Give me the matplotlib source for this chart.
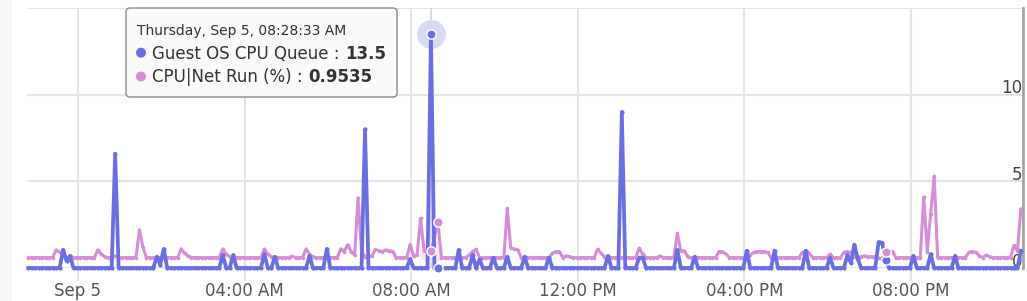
import matplotlib
matplotlib.use('Agg')
import matplotlib.pyplot as plt
from matplotlib.patches import FancyBboxPatch, Rectangle, Circle
from matplotlib.transforms import IdentityTransform
import numpy as np
import pandas as pd

# 5-minute samples, Sep 4 22:48:33 -> Sep 5 22:38:33
times = pd.date_range('2024-09-04 22:48:33', periods=287, freq='5min')

# Guest OS CPU Queue (one row = one hour)
cpu_queue = [
    0, 0, 0, 0, 0, 0, 0, 0, 0, 0, 1.05, 0.4,
    0.7, 0, 0, 0, 0, 0, 0, 0, 0, 0, 0, 0,
    0, 6.6, 0, 0, 0, 0, 0, 0, 0, 0, 0, 0,
    0, 0.65, 0.2, 1.1, 0, 0, 0, 0, 0, 0, 0, 0,
    0, 0, 0, 0, 0, 0, 0, 0, 0.75, 0, 0, 0.75,
    0, 0, 0, 0, 0, 0, 0, 0, 0.8, 0, 0, 0.65,
    0, 0, 0, 0, 0, 0, 0, 0, 0, 0.7, 0, 0,
    0, 0, 1.1, 0, 0, 0, 0, 0, 0, 0, 0, 0,
    0, 8.0, 0, 0, 0, 0, 0, 0, 0, 0, 0, 0,
    0, 0, 0.5, 0, 0, 0, 0, 0, 13.5, 0, 0, 0,
    0, 0, 0, 0, 1.05, 0, 0, 0, 0.75, 0, 0.5, 0,
    0, 0, 0.6, 0, 0, 0, 0.65, 0, 0, 0, 0, 0.65,
    0, 0, 0, 0, 0, 0, 0.6, 0, 0, 0, 0, 0,
    0, 0, 0, 0, 0, 0, 0, 0, 0, 0, 0, 0.7,
    0, 0, 0, 9.0, 0, 0, 0, 0, 0.6, 0.6, 0, 0,
    0, 0, 0, 0, 0, 0, 0, 1.05, 0, 0, 0, 0,
    0.65, 0, 0, 0, 0, 0, 0, 0, 0, 0, 0, 0,
    0, 0, 0, 1.0, 0, 0, 0, 0, 0, 0, 0, 1.0,
    0, 0, 0, 0, 0, 0, 0, 0, 1.0, 0, 0, 0,
    0, 0, 0, 0.6, 0, 0, 0, 0, 0.75, 0.3, 1.35, 0.5,
    0, 0, 0, 0, 0, 1.5, 1.45, 0.46, 0, 0, 0, 0,
    0, 0, 0, 0.7, 0, 0, 0, 0, 0.8, 0, 0, 0,
    0, 0, 0, 0.7, 0, 0, 0, 0, 0, 0, 0, 0,
    0, 0, 0, 0, 0, 0, 0, 0, 0, 0, 1.0,
]

# CPU|Net Run (%)
net_run = [
    0.6, 0.6, 0.6, 0.6, 0.6, 0.6, 0.6, 0.6, 1.05, 0.9, 0.75, 0.5,
    0.7, 0.6, 0.6, 0.6, 0.6, 0.6, 0.6, 0.6, 1.05, 0.8, 0.65, 0.6,
    0.6, 0.7, 0.6, 0.6, 0.6, 0.6, 0.6, 0.6, 2.2, 1.2, 0.6, 0.6,
    0.6, 0.6, 0.6, 0.6, 0.6, 0.6, 0.6, 0.6, 1.1, 0.85, 0.7, 0.6,
    0.6, 0.6, 0.6, 0.6, 0.6, 0.6, 0.6, 0.6, 1.1, 0.8, 0.65, 0.6,
    0.6, 0.6, 0.6, 0.6, 0.6, 0.6, 0.6, 0.6, 1.1, 0.8, 0.65, 0.6,
    0.6, 0.6, 0.6, 0.6, 0.68, 0.6, 0.6, 0.6, 1.1, 0.8, 0.65, 0.6,
    0.6, 0.6, 0.7, 0.6, 0.6, 0.6, 1.1, 0.95, 1.35, 0.95, 0.75, 4.05,
    0.95, 0.65, 0.65, 0.7, 1.08, 1.0, 0.95, 1.05, 1.0, 0.95, 0.6, 0.6,
    0.6, 0.6, 1.35, 0.7, 0.75, 2.87, 1.0, 1.0, 0.9535, 1.8, 2.64, 0.6,
    0.6, 0.6, 0.6, 0.6, 0.6, 0.6, 0.6, 0.75, 0.95, 1.08, 0.6, 0.6,
    0.6, 0.6, 0.6, 0.6, 0.6, 0.6, 3.45, 1.15, 1.1, 1.05, 0.6, 0.6,
    0.6, 0.6, 0.6, 0.6, 0.6, 0.6, 0.6, 0.85, 0.95, 0.95, 0.6, 0.7,
    0.65, 0.6, 0.6, 0.6, 0.6, 0.6, 0.6, 0.6, 1.08, 0.85, 0.65, 0.6,
    0.6, 0.6, 0.6, 0.6, 0.6, 0.6, 0.6, 0.6, 1.15, 0.8, 0.6, 0.6,
    0.6, 0.6, 0.7, 0.6, 0.6, 0.6, 0.6, 2.0, 1.0, 1.0, 0.65, 0.6,
    0.6, 0.6, 0.6, 0.6, 0.6, 0.6, 0.6, 0.95, 0.95, 0.8, 0.6, 0.6,
    0.6, 0.6, 0.6, 0.7, 0.75, 0.9, 0.95, 0.95, 0.95, 0.9, 0.6, 0.6,
    0.6, 0.6, 0.6, 0.6, 0.6, 0.6, 0.6, 0.9, 0.95, 0.85, 0.6, 0.6,
    0.6, 0.6, 0.6, 0.8, 0.6, 0.6, 0.6, 0.9, 0.95, 0.9, 0.65, 0.65,
    0.65, 0.7, 0.65, 0.65, 0.65, 0.55, 0.55, 0.95, 0.95, 0.95, 0.6, 0.6,
    0.6, 0.6, 0.6, 0.6, 0.6, 0.6, 4.1, 0.95, 3.1, 5.3, 0.6, 0.6,
    0.6, 0.6, 0.6, 0.6, 0.6, 0.6, 0.6, 0.9, 0.95, 0.9, 0.7, 0.6,
    0.75, 0.65, 0.6, 0.6, 0.6, 0.6, 0.6, 0.6, 1.3, 1.0, 3.4,
]

tick_times = ['2024-09-05 00:00', '2024-09-05 04:00', '2024-09-05 08:00',
              '2024-09-05 12:00', '2024-09-05 16:00', '2024-09-05 20:00']
tick_labels = ['Sep 5', '04:00 AM', '08:00 AM', '12:00 PM', '04:00 PM', '08:00 PM']
y_ticks = [0, 5, 10, 15]
y_labels = ['0', '5', '10']

hover_idx = 116
pinned_idx = [118, 247]

BLUE = '#6b6ee2'
PINK = '#d58dd7'
GRID = '#e2e4e9'

fig = plt.figure(figsize=(10.27, 3.01), dpi=100)
fig.add_artist(Rectangle((0, 0), 12, 301, transform=IdentityTransform(),
                         facecolor='#f8f8f9', edgecolor='none', zorder=-5))
ax = fig.add_axes([27 / 1027, 33 / 301, 996 / 1027, 260 / 301])

ax.axvline(times[hover_idx], color='#d3d5dc', lw=1.2, zorder=1)

ax.plot(times, net_run, color=PINK, lw=2.2, marker='o', ms=2.6, mew=0,
        zorder=3, clip_on=False)
ax.plot(times, cpu_queue, color=BLUE, lw=2.7, marker='o', ms=3.0, mew=0,
        zorder=4, clip_on=False)

# hover halos + markers
ax.scatter([times[hover_idx]], [cpu_queue[hover_idx]], s=430, color='#d8d9f5', zorder=2, lw=0)
ax.scatter([times[hover_idx]], [net_run[hover_idx]], s=300, color='#f4e6f4', zorder=2, lw=0)
for idx in [hover_idx] + pinned_idx:
    ax.scatter([times[idx]], [cpu_queue[idx]], s=45, color=BLUE, edgecolor='white',
               lw=1.0, zorder=6, clip_on=False)
    ax.scatter([times[idx]], [net_run[idx]], s=45, color=PINK, edgecolor='white',
               lw=1.0, zorder=6, clip_on=False)

ax.set_ylim(0, 15)
ax.set_xlim(np.datetime64('2024-09-04T22:46:33'), np.datetime64('2024-09-05T22:41:33'))
ax.set_yticks(y_ticks)
ax.set_xticks(pd.to_datetime(tick_times))
ax.set_xticklabels(tick_labels)
ax.grid(True, color=GRID, lw=1.5, zorder=0)
ax.set_axisbelow(True)
ax.tick_params(axis='x', length=9.5, width=1.5, color=GRID, pad=0.5,
               labelsize=12, labelcolor='#565656')
ax.tick_params(axis='y', length=0, labelleft=False)
for s in ['top', 'left', 'bottom']:
    ax.spines[s].set_visible(False)
ax.spines['right'].set_color('#a3a3a3')
ax.spines['right'].set_linewidth(2)

for v, lab in zip(y_ticks, y_labels):
    ax.annotate(lab, xy=(1, v), xycoords=('axes fraction', 'data'),
                xytext=(-0.5, 1.0), textcoords='offset points',
                ha='right', va='baseline', fontsize=12, color='#444444')

# tooltip
px = IdentityTransform()
H = 301
fig.add_artist(FancyBboxPatch((126, H - 97), 271, 89, boxstyle='round,pad=0,rounding_size=4',
                              transform=px, facecolor='#fafafa', edgecolor='#8a8a8a',
                              lw=1.0, zorder=10))
fig.text(137, H - 35.5, 'Thursday, Sep 5, 08:28:33 AM', transform=px, fontsize=10,
         color='#333333', va='baseline', zorder=11)
fig.add_artist(Circle((141, H - 52.7), 4.3, transform=px, color=BLUE, zorder=11))
fig.add_artist(Circle((141, H - 76.5), 4.3, transform=px, color=PINK, zorder=11))
t1 = fig.text(152, H - 59, 'Guest OS CPU Queue :', transform=px, fontsize=12,
              color='#333333', va='baseline', zorder=11)
t2 = fig.text(152, H - 82.5, 'CPU|Net Run (%) :', transform=px, fontsize=12,
              color='#333333', va='baseline', zorder=11)
fig.canvas.draw()
r = fig.canvas.get_renderer()
fig.text(t1.get_window_extent(r).x1 + 6, H - 59, '13.5', transform=px, fontsize=12,
         weight='bold', color='#333333', va='baseline', zorder=11)
fig.text(t2.get_window_extent(r).x1 + 6, H - 82.5, '0.9535', transform=px, fontsize=12,
         weight='bold', color='#333333', va='baseline', zorder=11)

fig.savefig('out.png', dpi=100)
